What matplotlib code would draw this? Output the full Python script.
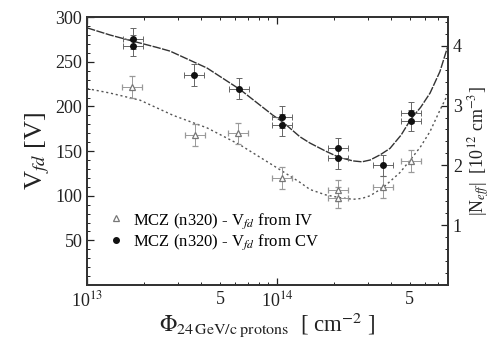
import matplotlib
matplotlib.use("Agg")
import matplotlib.pyplot as plt
from matplotlib.lines import Line2D
from matplotlib.ticker import FixedLocator, FixedFormatter, MultipleLocator, NullFormatter

plt.rcParams["font.family"] = "Liberation Serif"
plt.rcParams["mathtext.fontset"] = "stix"

# measured points: fluence [cm^-2], full depletion voltage [V]
fluence_cv = [1.75e13, 1.75e13, 3.65e13, 6.3e13, 1.06e14, 1.06e14, 2.1e14, 2.1e14, 3.6e14, 5.07e14, 5.07e14]
vfd_cv = [276, 268, 235, 220, 188, 179, 153, 142, 134, 193, 184]

fluence_iv = [1.73e13, 3.7e13, 6.2e13, 1.06e14, 2.1e14, 2.1e14, 3.6e14, 5.07e14]
vfd_iv = [222, 168, 170, 120, 106, 98, 110, 139]

# fitted curves
fit_cv_x = [1.0e13, 1.32e13, 1.75e13, 2.34e13, 2.73e13, 4.28e13, 6.38e13, 9.53e13, 1.08e14, 1.32e14,
            1.49e14, 1.8e14, 2.12e14, 2.51e14, 2.8e14, 3.09e14, 3.5e14, 3.93e14, 4.5e14, 5.07e14,
            5.7e14, 6.39e14, 7.2e14, 7.94e14]
fit_cv_y = [288, 280, 273, 266, 262, 243, 219, 190, 182, 166,
            159, 150, 143, 139, 138, 140, 146, 153, 168, 186,
            199, 215, 239, 268]

fit_iv_x = [1.0e13, 1.32e13, 1.90e13, 2.84e13, 4.28e13, 6.38e13, 9.53e13, 1.32e14, 1.49e14, 1.8e14,
            2.12e14, 2.51e14, 2.8e14, 3.09e14, 3.61e14, 4.44e14, 5.07e14, 5.7e14, 6.39e14, 7.21e14, 7.94e14]
fit_iv_y = [220, 215, 207, 190, 176, 157, 134, 115, 107, 101,
            98, 96, 97, 100, 109, 126, 141, 155, 172, 196, 214]

xerr_frac = 0.13
yerr_v = 12
volts_per_neff = 67.0

fig = plt.figure(figsize=(4.95, 3.43), dpi=100)
ax = fig.add_axes([0.176, 0.169, 0.729, 0.781])

ax.plot(fit_cv_x, fit_cv_y, color="#333333", lw=1.0, ls=(0, (6, 1.0)), zorder=2)
ax.plot(fit_iv_x, fit_iv_y, color="#555555", lw=1.0, ls=(0, (1.5, 2.0)), zorder=2)


def xerrs(vals):
    lo = [v - v / (1 + xerr_frac) for v in vals]
    hi = [v * xerr_frac for v in vals]
    return [lo, hi]


ax.errorbar(fluence_iv, vfd_iv, xerr=xerrs(fluence_iv), yerr=yerr_v, fmt="^", ms=4,
            mfc="white", mec="#777777", mew=0.9, ecolor="#999999", elinewidth=0.7,
            capsize=2, capthick=0.7, zorder=3)
ax.errorbar(fluence_cv, vfd_cv, xerr=xerrs(fluence_cv), yerr=yerr_v, fmt="o", ms=4,
            mfc="#111111", mec="#111111", ecolor="#666666", elinewidth=0.7,
            capsize=2, capthick=0.7, zorder=4)

ax.set_xscale("log")
ax.set_xlim(1e13, 7.94e14)
ax.set_ylim(0, 300)

ax.xaxis.set_major_locator(FixedLocator([1e13, 1e14]))
ax.xaxis.set_major_formatter(FixedFormatter(["10$^{13}$", "10$^{14}$"]))
minor_x = [m * d for d in (1e13, 1e14) for m in range(2, 10) if m * d < 8e14]
minor_lbl = ["5" if m == 5 else "" for d in (1e13, 1e14) for m in range(2, 10) if m * d < 8e14]
ax.xaxis.set_minor_locator(FixedLocator(minor_x))
ax.xaxis.set_minor_formatter(FixedFormatter(minor_lbl))

ax.yaxis.set_major_locator(FixedLocator([50, 100, 150, 200, 250, 300]))
ax.yaxis.set_minor_locator(MultipleLocator(10))

ax.tick_params(which="both", direction="in", top=True, right=False, labelsize=13, colors="#222222")
ax.tick_params(which="major", length=5, width=0.9)
ax.tick_params(which="minor", length=2.5, width=0.7)
ax.tick_params(axis="x", which="both", pad=4)

ax2 = ax.twinx()
ax2.set_ylim(0, 300 / volts_per_neff)
ax2.yaxis.set_major_locator(FixedLocator([1, 2, 3, 4]))
ax2.yaxis.set_minor_locator(MultipleLocator(0.2))
ax2.yaxis.set_minor_formatter(NullFormatter())
ax2.tick_params(which="both", direction="in", labelsize=13, colors="#222222")
ax2.tick_params(which="major", length=5, width=0.9)
ax2.tick_params(which="minor", length=2.5, width=0.7)

for a in (ax, ax2):
    for s in a.spines.values():
        s.set_linewidth(1.3)
        s.set_color("#333333")

ax.set_ylabel("V$_{fd}$ [V]", fontsize=19, color="#222222", labelpad=2)
ax2.set_ylabel("|N$_{eff}$|  [10$^{12}$ cm$^{-3}$]", fontsize=13, color="#222222", labelpad=3)
ax.set_xlabel(r"$\Phi_{\mathrm{24\,GeV/c\;protons}}$  [ cm$^{-2}$ ]", fontsize=16.5, color="#222222", labelpad=0)

handles = [
    Line2D([], [], ls="none", marker="^", ms=4, mfc="white", mec="#777777", mew=0.9),
    Line2D([], [], ls="none", marker="o", ms=4, mfc="#111111", mec="#111111"),
]
labels = ["MCZ (n320) - V$_{fd}$ from IV", "MCZ (n320) - V$_{fd}$ from CV"]
ax.legend(handles, labels, loc="lower left", bbox_to_anchor=(0.03, 0.08), frameon=False, fontsize=12,
          handlelength=0.8, handletextpad=0.6, borderpad=0.2, labelspacing=0.1)

fig.savefig("out.png", dpi=100)
